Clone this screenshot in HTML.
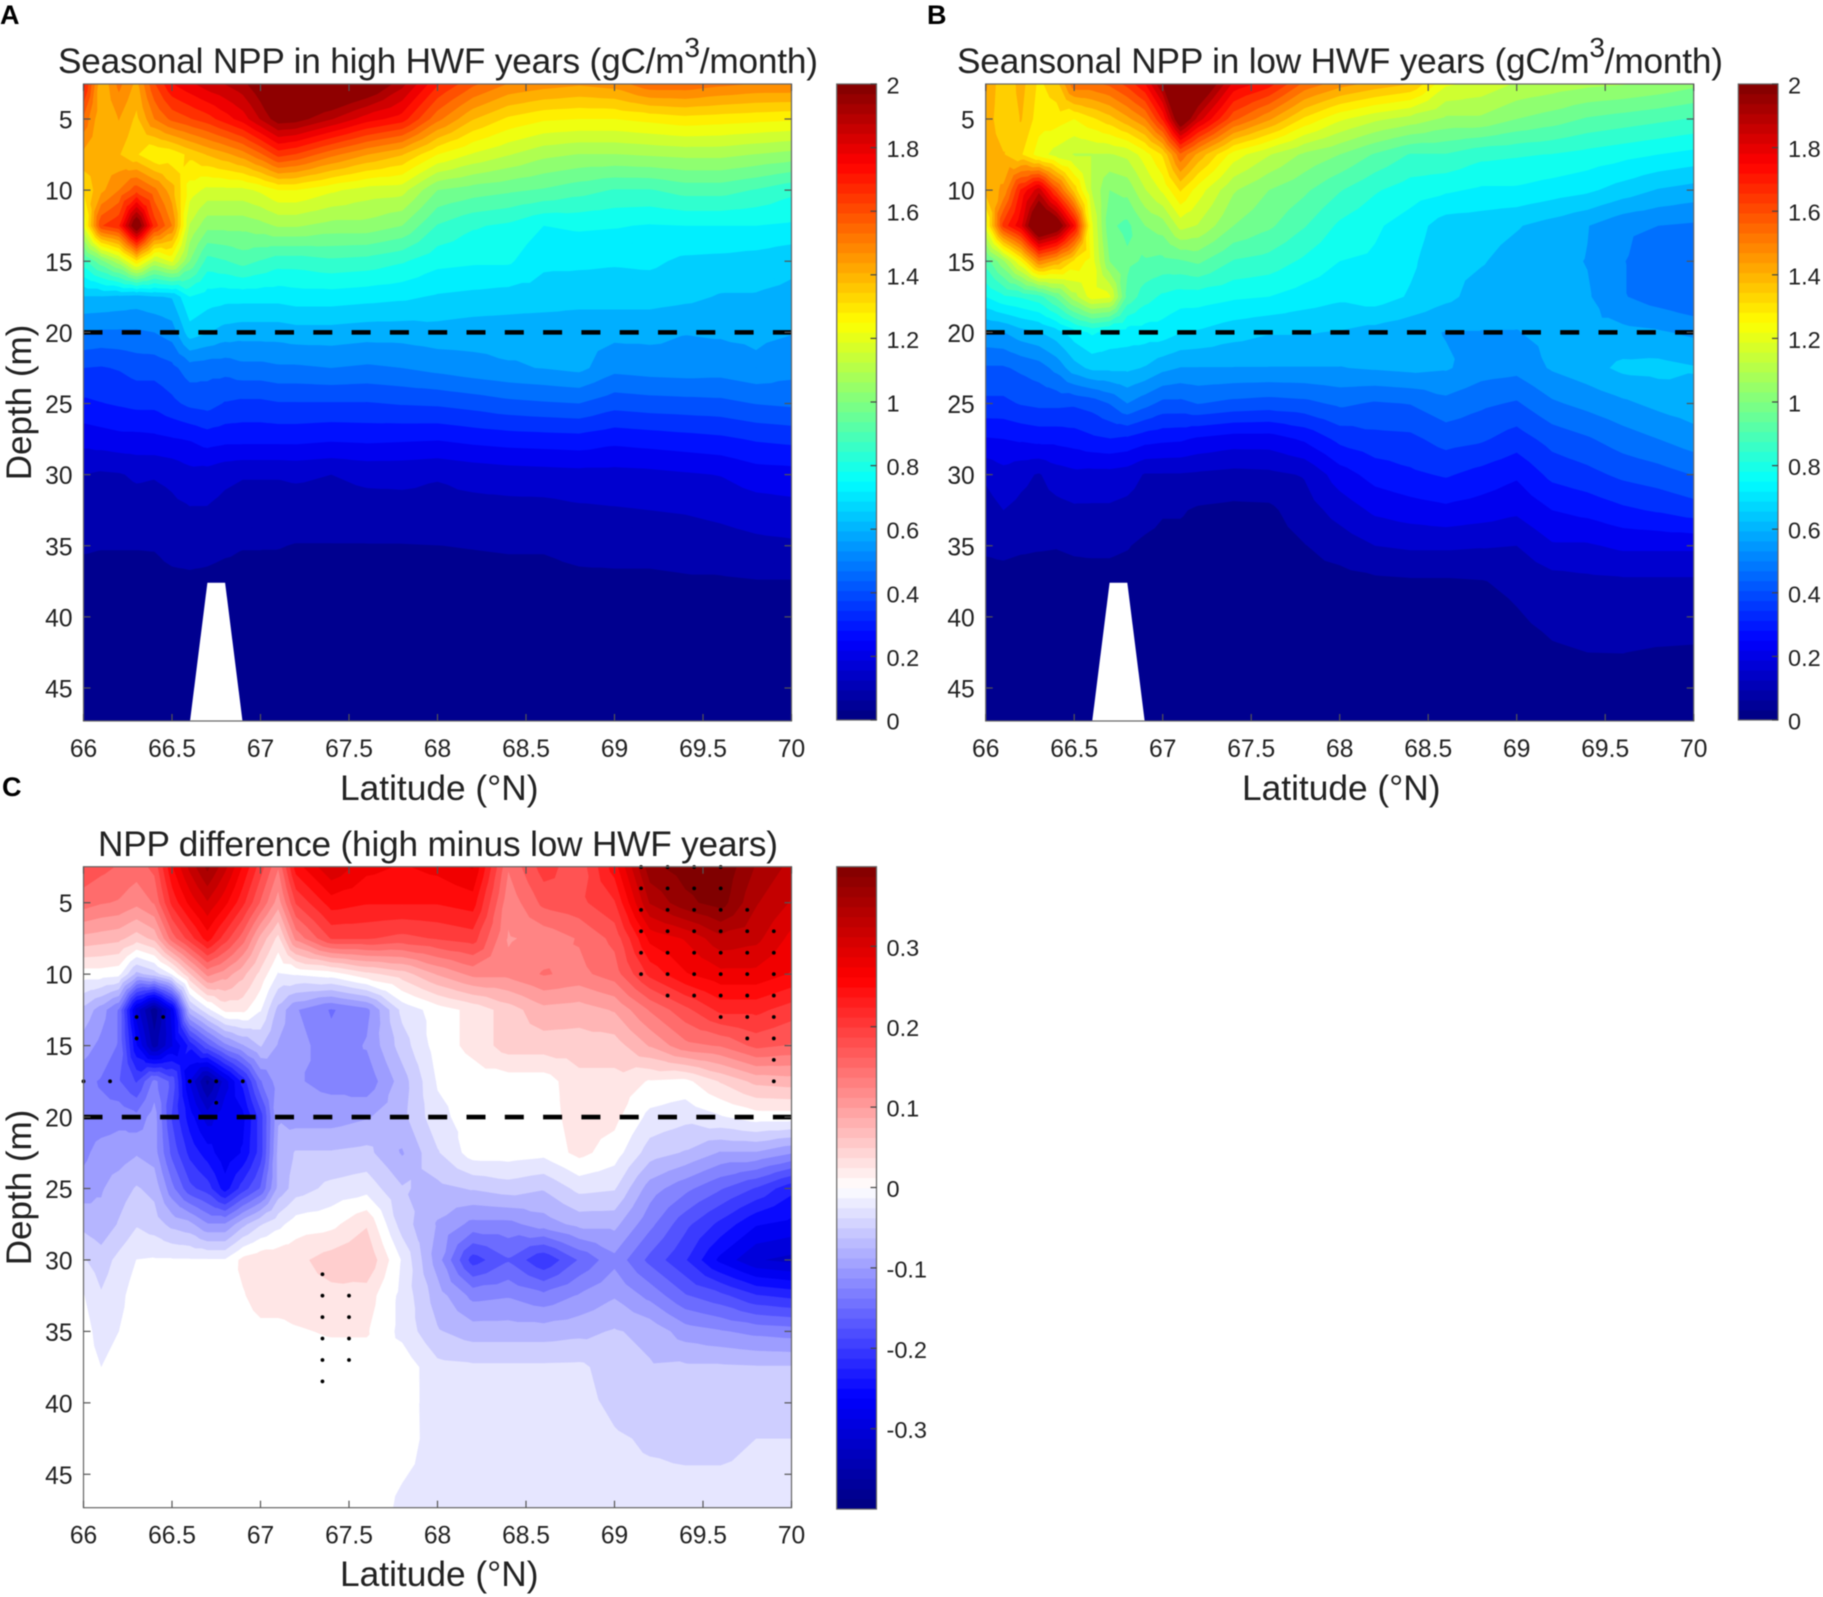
<!DOCTYPE html>
<html lang="en">
<head>
<meta charset="utf-8">
<title>Seasonal NPP sections</title>
<style>
html,body{margin:0;padding:0;background:#fff;}
svg{display:block;font-family:"Liberation Sans",sans-serif;fill:#222;filter:blur(0.4px);}
</style>
</head>
<body>
<svg id="chart" xmlns="http://www.w3.org/2000/svg" width="1823" height="1597" viewBox="0 0 1823 1597">
<rect x="0" y="0" width="1823" height="1597" fill="#fff"/>
<text x="0" y="24" font-size="27" font-weight="bold" fill="#000">A</text>
<text x="927" y="24" font-size="27" font-weight="bold" fill="#000">B</text>
<text x="2" y="796" font-size="27" font-weight="bold" fill="#000">C</text>
<text x="58" y="73" font-size="35.2" textLength="760">Seasonal NPP in high HWF years (gC/m<tspan font-size="28" dy="-16">3</tspan><tspan dy="16">/month)</tspan></text>
<text x="957" y="73" font-size="35.2" textLength="766">Seansonal NPP in low HWF years (gC/m<tspan font-size="28" dy="-16">3</tspan><tspan dy="16">/month)</tspan></text>
<text x="98" y="856" font-size="35.2" textLength="680">NPP difference (high minus low HWF years)</text>
<text x="340" y="800" font-size="35.3">Latitude (°N)</text>
<text x="1242" y="800" font-size="35.3">Latitude (°N)</text>
<text x="340" y="1586" font-size="35.3">Latitude (°N)</text>
<text transform="translate(31,402.5) rotate(-90)" text-anchor="middle" font-size="35">Depth (m)</text>
<text transform="translate(31,1187.5) rotate(-90)" text-anchor="middle" font-size="35">Depth (m)</text>
</svg>
<script>
const latitudes = [66,66.1,66.2,66.3,66.4,66.5,66.6,66.7,66.8,66.9,67,67.1,67.2,67.4,67.6,67.8,68,68.2,68.4,68.6,68.8,69,69.2,69.4,69.6,69.8,70];
const depths = [2.5,5,7.5,10,12.5,15,17.5,20,22.5,25,27.5,30,32.5,35,37.5,42.5,47.5];
const latTickLabels = ["66","66.5","67","67.5","68","68.5","69","69.5","70"];
const depthTickLabels = ["5","10","15","20","25","30","35","40","45"];
const nppColorbarLabels = ["0","0.2","0.4","0.6","0.8","1","1.2","1.4","1.6","1.8","2"];
const diffColorbarLabels = ["-0.3","-0.2","-0.1","0","0.1","0.2","0.3"];
const referenceDepth = 20;
const seabedLat = [66.6,66.7,66.8,66.9];
const seabedDepth = [47.5,37.6,37.6,47.5];

const highHwfNpp = [
[1.72,1.38,1.52,1.42,1.62,1.75,1.8,1.85,1.88,1.92,2.0,2.12,2.15,2.12,2.05,1.9,1.7,1.58,1.5,1.47,1.45,1.47,1.55,1.55,1.52,1.5,1.5],
[1.55,1.38,1.44,1.36,1.5,1.58,1.62,1.66,1.72,1.78,1.88,1.98,1.97,1.88,1.78,1.72,1.52,1.38,1.3,1.26,1.25,1.25,1.27,1.29,1.28,1.27,1.26],
[1.42,1.4,1.38,1.32,1.25,1.27,1.33,1.38,1.42,1.47,1.55,1.65,1.62,1.52,1.44,1.38,1.25,1.18,1.13,1.08,1.06,1.06,1.07,1.08,1.08,1.06,1.04],
[1.32,1.42,1.5,1.6,1.52,1.4,1.22,1.17,1.17,1.17,1.2,1.25,1.25,1.2,1.16,1.15,1.0,.97,.95,.93,.9,.87,.87,.9,.9,.87,.83],
[1.2,1.62,1.68,2.05,1.66,1.5,1.12,1.02,1.02,1.02,1.04,1.07,1.07,1.04,1.04,1.0,.87,.82,.8,.75,.76,.755,.745,.75,.75,.75,.74],
[.85,.98,1.1,1.3,1.12,1.2,1.0,.85,.87,.9,.87,.84,.84,.86,.85,.82,.77,.76,.76,.7,.7,.695,.7,.675,.67,.66,.64],
[.62,.62,.61,.6,.62,.63,.75,.72,.71,.71,.71,.71,.72,.72,.71,.7,.68,.67,.66,.66,.65,.65,.65,.64,.62,.62,.61],
[.5,.49,.49,.49,.5,.53,.66,.63,.6,.59,.59,.59,.6,.6,.59,.59,.6,.59,.59,.58,.58,.58,.58,.565,.57,.575,.565],
[.375,.37,.38,.4,.4,.42,.47,.46,.46,.48,.48,.49,.49,.5,.49,.5,.52,.54,.555,.565,.58,.52,.53,.535,.53,.55,.525],
[.3,.31,.32,.33,.33,.36,.39,.4,.37,.36,.36,.37,.37,.37,.37,.38,.385,.4,.42,.43,.4375,.4,.41,.415,.42,.44,.45],
[.21,.22,.23,.23,.235,.245,.255,.28,.27,.27,.27,.27,.27,.26,.265,.26,.255,.27,.28,.285,.29,.27,.28,.29,.3,.32,.33],
[.125,.115,.12,.135,.13,.14,.165,.16,.14,.13,.13,.13,.135,.125,.14,.14,.13,.145,.155,.16,.165,.165,.17,.18,.19,.22,.225],
[.095,.09,.09,.095,.095,.11,.12,.12,.105,.095,.095,.095,.095,.095,.1,.105,.105,.105,.105,.105,.115,.12,.125,.13,.14,.155,.165],
[.068,.065,.065,.065,.066,.08,.085,.08,.072,.065,.065,.065,.06,.06,.06,.06,.062,.065,.068,.068,.08,.085,.085,.09,.1,.11,.115],
[.045,.045,.045,.045,.045,.05,.052,.05,.045,.045,.045,.04,.04,.04,.04,.04,.04,.042,.045,.045,.05,.05,.05,.055,.055,.06,.06],
[.02,.02,.02,.02,.02,.02,.02,.02,.02,.02,.02,.02,.02,.02,.02,.02,.02,.02,.02,.02,.02,.02,.02,.02,.02,.02,.02],
[.01,.01,.01,.01,.01,.01,.01,.01,.01,.01,.01,.01,.01,.01,.01,.01,.01,.01,.01,.01,.01,.01,.01,.01,.01,.01,.01]
];

const lowHwfNpp = [
[1.45,1.32,1.4,1.3,1.35,1.55,1.55,1.58,1.65,1.75,1.95,2.3,2.1,1.8,1.72,1.55,1.47,1.42,1.38,1.2,1.17,1.12,1.1,1.08,1.07,1.05,1.02],
[1.42,1.32,1.38,1.28,1.28,1.25,1.3,1.35,1.42,1.5,1.7,2.05,1.85,1.58,1.45,1.3,1.2,1.14,1.1,1.05,1.05,1.0,.97,.93,.91,.89,.87],
[1.42,1.38,1.32,1.22,1.16,1.12,1.12,1.12,1.14,1.22,1.32,1.55,1.42,1.22,1.13,1.05,1.0,.93,.87,.87,.83,.82,.81,.79,.77,.75,.73],
[1.4,1.45,1.7,1.85,1.6,1.35,1.12,1.0,1.02,1.12,1.2,1.32,1.22,1.07,1.0,.95,.88,.82,.78,.76,.74,.74,.72,.7,.66,.62,.6],
[1.22,1.65,1.8,2.15,2.05,1.75,1.2,.95,.92,1.0,1.03,1.15,1.12,1.0,.95,.88,.8,.76,.72,.655,.65,.63,.6,.565,.515,.5,.49],
[.9,1.05,1.25,1.5,1.42,1.3,1.22,1.0,.95,.93,.92,.93,.95,.87,.85,.8,.75,.74,.7,.64,.63,.6,.58,.56,.505,.44,.44],
[.75,.8,.82,.85,.95,1.1,1.22,1.2,.92,.84,.8,.78,.78,.76,.75,.72,.7,.72,.68,.64,.6,.59,.59,.57,.505,.47,.44],
[.55,.56,.6,.62,.66,.72,.76,.73,.72,.72,.72,.69,.68,.65,.63,.63,.62,.6,.58,.56,.56,.56,.58,.58,.58,.57,.55],
[.43,.43,.45,.47,.52,.6,.64,.64,.64,.62,.58,.56,.56,.56,.56,.56,.56,.57,.58,.57,.53,.52,.57,.6,.64,.645,.63],
[.36,.36,.38,.39,.39,.385,.4,.44,.5,.46,.42,.42,.44,.42,.41,.42,.45,.43,.44,.48,.45,.43,.49,.52,.55,.58,.6],
[.245,.25,.26,.27,.27,.28,.3,.31,.3,.275,.265,.26,.24,.22,.22,.26,.33,.355,.36,.4,.385,.345,.4,.43,.47,.5,.535],
[.135,.165,.14,.12,.155,.17,.165,.165,.155,.12,.12,.12,.115,.105,.11,.13,.22,.275,.3,.32,.29,.26,.33,.355,.39,.41,.44],
[.1,.125,.11,.1,.105,.115,.115,.115,.105,.09,.068,.068,.055,.048,.05,.095,.15,.2,.22,.235,.22,.2,.25,.27,.3,.32,.345],
[.07,.075,.07,.067,.065,.07,.072,.072,.066,.05,.045,.045,.04,.035,.035,.06,.09,.125,.135,.135,.13,.125,.18,.18,.2,.2,.2],
[.045,.045,.04,.04,.04,.045,.045,.045,.04,.035,.03,.03,.03,.025,.025,.04,.04,.05,.055,.055,.06,.075,.1,.11,.115,.115,.115],
[.02,.02,.02,.02,.02,.02,.02,.02,.02,.02,.02,.02,.02,.02,.02,.02,.02,.02,.02,.02,.02,.04,.055,.0625,.063,.058,.056],
[.01,.01,.01,.01,.01,.01,.01,.01,.01,.01,.01,.01,.01,.01,.01,.01,.01,.01,.01,.01,.01,.02,.03,.03,.03,.03,.03]
];

const nppDifference = [
[.18,.17,.16,.15,.17,.26,.32,.37,.32,.26,.2,.14,.25,.31,.27,.26,.27,.29,.14,.2,.17,.25,.38,.4,.41,.36,.33],
[.15,.14,.135,.12,.14,.22,.27,.31,.27,.22,.16,.1,.19,.25,.24,.24,.24,.25,.12,.17,.18,.21,.34,.38,.4,.34,.31],
[.08,.075,.07,.05,.07,.15,.2,.25,.2,.15,.08,.03,.12,.19,.19,.18,.19,.2,.11,.12,.14,.17,.27,.29,.33,.32,.28],
[0,0,-.005,-.07,-.05,-.01,.06,.12,.1,.07,.03,-.015,-.01,0,.03,.05,.09,.12,.12,.14,.13,.15,.22,.26,.28,.28,.26],
[-.07,-.1,-.14,-.3,-.38,-.28,-.07,-.02,.02,.02,-.01,-.07,-.11,-.14,-.12,-.03,0,.02,.05,.08,.075,.09,.14,.18,.22,.22,.2],
[-.1,-.12,-.14,-.26,-.35,-.29,-.23,-.17,-.12,-.09,-.06,-.09,-.1,-.13,-.11,-.05,0,.02,.05,.05,.05,.05,.09,.13,.14,.17,.16],
[-.13,-.14,-.16,-.19,-.13,-.17,-.29,-.37,-.3,-.23,-.14,-.1,-.11,-.12,-.13,-.075,-.01,0,0,0,.03,.03,.01,.005,.04,.07,.075],
[-.13,-.13,-.12,-.13,-.1,-.19,-.25,-.3,-.27,-.27,-.2,-.09,-.1,-.1,-.09,-.07,-.02,0,0,0,.025,.02,-.02,-.03,-.015,0,0],
[-.12,-.1,-.1,-.09,-.1,-.17,-.22,-.25,-.28,-.26,-.2,-.08,-.06,-.06,-.055,-.09,-.04,0,0,-.005,.02,0,-.05,-.065,-.09,-.09,-.11],
[-.1,-.09,-.075,-.06,-.07,-.13,-.18,-.2,-.25,-.2,-.16,-.08,-.05,-.03,-.022,-.06,-.07,-.06,-.05,-.06,-.03,-.035,-.1,-.13,-.16,-.19,-.23],
[-.07,-.08,-.06,-.04,-.05,-.07,-.08,-.11,-.11,-.07,-.04,-.02,0,.005,.035,-.05,-.09,-.12,-.12,-.1,-.08,-.08,-.13,-.18,-.22,-.26,-.27],
[-.035,-.05,-.03,-.012,-.01,-.01,-.01,-.01,-.01,.02,.03,.03,.03,.05,.06,-.015,-.1,-.2,-.165,-.21,-.16,-.12,-.17,-.21,-.27,-.31,-.32],
[-.011,-.035,-.02,0,0,0,0,0,.005,.01,.025,.025,.025,.03,.025,-.02,-.075,-.12,-.115,-.13,-.11,-.09,-.12,-.16,-.18,-.21,-.22],
[0,-.025,-.0125,0,0,0,0,0,0,0,.005,.005,.01,.015,.015,-.02,-.06,-.075,-.075,-.075,-.07,-.06,-.07,-.1,-.11,-.12,-.125],
[0,-.0125,0,0,0,0,0,0,0,0,0,0,0,0,0,.004,-.03,-.033,-.033,-.033,-.032,-.05,-.06,-.058,-.058,-.06,-.06],
[0,0,0,0,0,0,0,0,0,0,0,0,0,0,0,-.005,-.02,-.025,-.025,-.025,-.028,-.035,-.04,-.042,-.042,-.0375,-.0375],
[0,0,0,0,0,0,0,0,0,0,0,0,0,0,0,-.017,-.02,-.025,-.025,-.025,-.028,-.03,-.03,-.03,-.03,-.03,-.03]
];

const stippleColumns = [
[66,[17.5]],[66.15,[17.5]],[66.3,[13,14.5]],[66.45,[13]],[66.6,[17.5]],[66.75,[17.5,19]],[66.9,[17.5]],
[67.35,[31,32.5,34,35.5,37,38.5]],[67.5,[32.5,34,35.5,37]],
[69.15,[2.5,4,5.5,7,8.5,10]],[69.3,[2.5,4,5.5,7,8.5,10,11.5]],[69.45,[2.5,4,5.5,7,8.5,10,11.5]],
[69.6,[2.5,4,5.5,7,8.5,10,11.5,13]],[69.75,[5.5,7,8.5,10,11.5,13,14.5]],[69.9,[7,8.5,10,11.5,13,14.5,16,17.5]]
];

const NS = "http://www.w3.org/2000/svg";
const root = document.getElementById("chart");

function make(tag, parent, attrs) {
  const el = document.createElementNS(NS, tag);
  for (const k in attrs) el.setAttribute(k, attrs[k]);
  parent.appendChild(el);
  return el;
}
function rgb(r, g, b) {
  return "rgb(" + Math.round(r * 255) + "," + Math.round(g * 255) + "," + Math.round(b * 255) + ")";
}
function jetColor(t) {
  const c = x => Math.max(0, Math.min(1, x));
  return rgb(c(1.5 - Math.abs(4 * t - 3)), c(1.5 - Math.abs(4 * t - 2)), c(1.5 - Math.abs(4 * t - 1)));
}
function divergingColor(v) {
  const a = Math.abs(v);
  let strong, pale;
  if (a <= 0.26) {
    strong = 1;
    pale = 1 - a / 0.26;
  } else {
    strong = 1 - 0.5 * Math.min(1, (a - 0.26) / 0.14);
    pale = 0;
  }
  return v >= 0 ? rgb(strong, pale, pale) : rgb(pale, pale, strong);
}

const nppScale = { base: 0, bands: 32, step: 0.0625 };
nppScale.lower = i => i * nppScale.step;
nppScale.color = i => jetColor((i + 0.5) / nppScale.bands);
nppScale.smooth = v => jetColor(v / 2);
const diffScale = { base: -0.4125, bands: 33, step: 0.025 };
diffScale.lower = i => diffScale.base + i * diffScale.step;
diffScale.color = i => divergingColor(Math.max(-0.4, Math.min(0.4, -0.4 + i * diffScale.step)));
diffScale.smooth = v => divergingColor(v);

function clipAbove(tri, level) {
  const out = [];
  for (let i = 0; i < 3; i++) {
    const a = tri[i], b = tri[(i + 1) % 3];
    const ina = a[2] >= level, inb = b[2] >= level;
    if (ina) out.push(a);
    if (ina !== inb) {
      const f = (level - a[2]) / (b[2] - a[2]);
      out.push([a[0] + f * (b[0] - a[0]), a[1] + f * (b[1] - a[1]), level]);
    }
  }
  return out;
}

function regionPath(values, level, xScale, yScale) {
  const parts = [];
  for (let r = 0; r < depths.length - 1; r++) {
    for (let c = 0; c < latitudes.length - 1; c++) {
      const x0 = xScale(latitudes[c]), x1 = xScale(latitudes[c + 1]);
      const y0 = yScale(depths[r]), y1 = yScale(depths[r + 1]);
      const p = [[x0, y0, values[r][c]], [x1, y0, values[r][c + 1]], [x1, y1, values[r + 1][c + 1]], [x0, y1, values[r + 1][c]]];
      const m = [(x0 + x1) / 2, (y0 + y1) / 2, (p[0][2] + p[1][2] + p[2][2] + p[3][2]) / 4];
      if (p[0][2] < level && p[1][2] < level && p[2][2] < level && p[3][2] < level && m[2] < level) continue;
      for (let k = 0; k < 4; k++) {
        const poly = clipAbove([p[k], p[(k + 1) % 4], m], level);
        if (poly.length < 3) continue;
        parts.push("M" + poly.map(q => q[0].toFixed(2) + " " + q[1].toFixed(2)).join("L") + "Z");
      }
    }
  }
  return parts.join("");
}

function drawPanel(id, box, values, scale, withSeabed, withStipple) {
  const xScale = lat => box.x0 + (lat - 66) * (box.x1 - box.x0) / 4;
  const yScale = d => box.y5 + (d - 5) * box.perMetre;

  const group = make("g", root, {});
  
  

  const defs = make("defs", group, {});
  const clip = make("clipPath", defs, { id: id + "-clip" });
  make("rect", clip, { x: box.x0, y: box.top, width: box.x1 - box.x0, height: box.bottom - box.top });

  const field = make("g", group, { "clip-path": "url(#" + id + "-clip)" });
  
  

  const baseBand = make("rect", field, { x: box.x0, y: box.top, width: box.x1 - box.x0, height: box.bottom - box.top, fill: scale.color(0) });
  
  

  for (let i = 1; i < scale.bands; i++) {
    const d = regionPath(values, scale.lower(i), xScale, yScale);
    if (!d) continue;
    const band = make("path", field, { d: d, fill: scale.color(i) });
    
    
  }

  if (withSeabed) {
    const pts = seabedLat.map((lat, i) => xScale(lat).toFixed(1) + "," + yScale(seabedDepth[i]).toFixed(1)).join(" ");
    const seabed = make("polygon", field, { points: pts, fill: "#fff" });
    
    
  }

  if (withStipple) {
    stippleColumns.forEach(col => {
      col[1].forEach(d => {
        const dot = make("circle", group, { cx: xScale(col[0]), cy: yScale(d), r: 1.9, fill: "#000" });
        
        
      });
    });
  }

  const refLine = make("line", group, {
    x1: box.x0, x2: box.x1, y1: yScale(referenceDepth), y2: yScale(referenceDepth),
    stroke: "#000", "stroke-width": 4.6, "stroke-dasharray": "19 19.3"
  });
  
  

  const frame = make("rect", group, { x: box.x0, y: box.top, width: box.x1 - box.x0, height: box.bottom - box.top, fill: "none", stroke: "#666", "stroke-width": 1.2 });
  
  

  latTickLabels.forEach(label => {
    const x = xScale(parseFloat(label));
    const bottomTick = make("line", group, { x1: x, x2: x, y1: box.bottom, y2: box.bottom - 7, stroke: "#555", "stroke-width": 1.2 });
    
    
    const topTick = make("line", group, { x1: x, x2: x, y1: box.top, y2: box.top + 7, stroke: "#555", "stroke-width": 1.2 });
    
    
    const text = make("text", group, { x: x, y: box.bottom + 36, "text-anchor": "middle", "font-size": 24.6 });
    
    
    text.textContent = label;
  });

  depthTickLabels.forEach(label => {
    const y = yScale(parseFloat(label));
    const leftTick = make("line", group, { x1: box.x0, x2: box.x0 + 7, y1: y, y2: y, stroke: "#555", "stroke-width": 1.2 });
    
    
    const rightTick = make("line", group, { x1: box.x1, x2: box.x1 - 7, y1: y, y2: y, stroke: "#555", "stroke-width": 1.2 });
    
    
    const text = make("text", group, { x: box.x0 - 11, y: y + 9.5, "text-anchor": "end", "font-size": 24.6 });
    
    
    text.textContent = label;
  });
}

function drawColorbar(id, box, scale, labels) {
  const yScale = v => box.zeroY - v * box.perUnit;
  const group = make("g", root, {});
  
  

  const steps = 64;
  for (let i = 0; i < steps; i++) {
    const lo = box.min + (box.max - box.min) * i / steps;
    const hi = box.min + (box.max - box.min) * (i + 1) / steps;
    const band = make("rect", group, {
      x: box.x0, width: box.x1 - box.x0, y: yScale(hi) - 0.3, height: yScale(lo) - yScale(hi) + 0.6, fill: scale.smooth((lo + hi) / 2)
    });
    
    
  }
  const frame = make("rect", group, { x: box.x0, y: yScale(box.max), width: box.x1 - box.x0, height: yScale(box.min) - yScale(box.max), fill: "none", stroke: "#666", "stroke-width": 1.2 });
  
  

  labels.forEach(label => {
    const y = yScale(parseFloat(label));
    const tick = make("line", group, { x1: box.x1, x2: box.x1 - 6, y1: y, y2: y, stroke: "#444", "stroke-width": 1.2 });
    
    
    const text = make("text", group, { x: box.x1 + 10, y: y + 9.5, "font-size": 23.5 });
    
    
    text.textContent = label;
  });
}

drawPanel("panel-a", { x0: 83.5, x1: 791.5, top: 84, bottom: 721, y5: 119, perMetre: 14.225 }, highHwfNpp, nppScale, true, false);
drawPanel("panel-b", { x0: 985.7, x1: 1693.7, top: 84, bottom: 721, y5: 119, perMetre: 14.225 }, lowHwfNpp, nppScale, true, false);
drawPanel("panel-c", { x0: 83.5, x1: 791.5, top: 866.7, bottom: 1507.7, y5: 902.7, perMetre: 14.29 }, nppDifference, diffScale, false, true);
drawColorbar("panel-a-colorbar", { x0: 836.7, x1: 876.5, zeroY: 720, perUnit: 318, min: 0, max: 2 }, nppScale, nppColorbarLabels);
drawColorbar("panel-b-colorbar", { x0: 1738.3, x1: 1778, zeroY: 720, perUnit: 318, min: 0, max: 2 }, nppScale, nppColorbarLabels);
drawColorbar("panel-c-colorbar", { x0: 836.7, x1: 876.5, zeroY: 1187.5, perUnit: 804, min: -0.4, max: 0.399 }, diffScale, diffColorbarLabels);
</script>
</body>
</html>
